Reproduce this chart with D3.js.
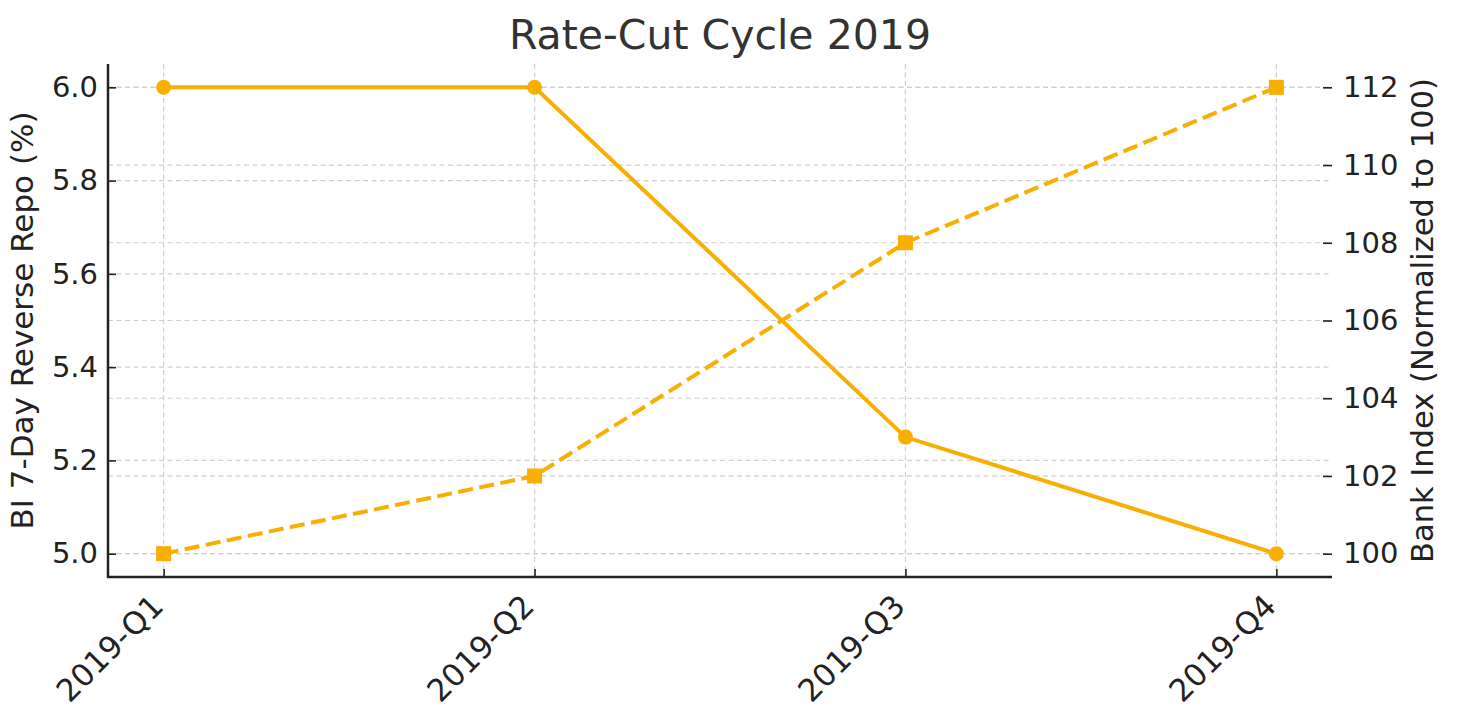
<!DOCTYPE html>
<html>
<head>
<meta charset="utf-8">
<script src="https://cdn.jsdelivr.net/npm/d3@7"></script>
<style>
  body { margin: 0; background: #fff; }
  text { font-family: "DejaVu Sans", sans-serif; }
</style>
</head>
<body>
<div id="chart"></div>
<script>
// data
var quarters = ["2019-Q1", "2019-Q2", "2019-Q3", "2019-Q4"];
var repoRate = [6.0, 6.0, 5.25, 5.0];
var bankIndex = [100, 102, 108, 112];
var rateTicks = [5.0, 5.2, 5.4, 5.6, 5.8, 6.0];
var indexTicks = [100, 102, 104, 106, 108, 110, 112];

var W = 1460, H = 721;
var plotL = 108, plotR = 1332, plotT = 64, plotB = 577;
var orange = "#f9ae02";

var svg = d3.select("#chart").append("svg")
    .attr("width", W)
    .attr("height", H);

var x = d3.scalePoint()
  .domain(quarters)
  .range([plotL, plotR])
  .padding(0.15);

var yL = d3.scaleLinear().domain([4.95, 6.05]).range([plotB, plotT]);
var yR = d3.scaleLinear().domain([99.4, 112.6]).range([plotB, plotT]);

// grid lines
var grid = svg.append("g")
  .attr("stroke", "#cfcfcf")
  .attr("stroke-width", 1.2)
  .attr("stroke-dasharray", "5,3.5")
  .attr("fill", "none");

grid.selectAll(".gx").data(quarters).enter().append("line")
  .attr("x1", function(d) { return x(d); })
  .attr("x2", function(d) { return x(d); })
  .attr("y1", plotT).attr("y2", plotB);

grid.selectAll(".gl").data(rateTicks).enter().append("line")
  .attr("x1", plotL).attr("x2", plotR)
  .attr("y1", function(d) { return yL(d); })
  .attr("y2", function(d) { return yL(d); });

grid.selectAll(".gr").data(indexTicks).enter().append("line")
  .attr("x1", plotL).attr("x2", plotR)
  .attr("y1", function(d) { return yR(d); })
  .attr("y2", function(d) { return yR(d); });

// left axis
var axL = svg.append("g")
  .attr("transform", "translate(" + plotL + ",0)")
  .call(d3.axisLeft(yL).tickValues(rateTicks).tickFormat(d3.format(".1f"))
    .tickSizeInner(-8).tickSizeOuter(0).tickPadding(10));
axL.select(".domain").remove();

// right axis
var axR = svg.append("g")
  .attr("transform", "translate(" + plotR + ",0)")
  .call(d3.axisRight(yR).tickValues(indexTicks)
    .tickSizeInner(-9).tickSizeOuter(0).tickPadding(11));
axR.select(".domain").remove();

// bottom axis
var axB = svg.append("g")
  .attr("transform", "translate(0," + plotB + ")")
  .call(d3.axisBottom(x).tickSizeInner(-8).tickSizeOuter(0).tickPadding(0));
axB.select(".domain").remove();

[axL, axR, axB].forEach(function(a) {
  a.selectAll(".tick line").attr("stroke", "#222").attr("stroke-width", 1.6);
  a.selectAll(".tick text")
    .attr("font-size", 29)
    .attr("font-family", "DejaVu Sans")
    .attr("fill", "#222");
});

axB.selectAll(".tick text")
  .attr("font-size", 31)
  .attr("text-anchor", "end")
  .attr("dy", null)
  .attr("y", 0)
  .attr("transform", "translate(1,31) rotate(-45)");

// spines
svg.append("line")
  .attr("x1", plotL).attr("x2", plotL)
  .attr("y1", plotT).attr("y2", plotB + 1)
  .attr("stroke", "#222").attr("stroke-width", 2.5);
svg.append("line")
  .attr("x1", plotL - 1).attr("x2", plotR)
  .attr("y1", plotB).attr("y2", plotB)
  .attr("stroke", "#222").attr("stroke-width", 2.5);

// repo rate line (solid, circles)
var rateData = quarters.map(function(q, i) { return {q: q, v: repoRate[i]}; });
svg.append("path")
  .datum(rateData)
  .attr("fill", "none")
  .attr("stroke", orange)
  .attr("stroke-width", 4)
  .attr("d", d3.line()
    .x(function(d) { return x(d.q); })
    .y(function(d) { return yL(d.v); }));
svg.selectAll(".dot").data(rateData).enter().append("circle")
  .attr("cx", function(d) { return x(d.q); })
  .attr("cy", function(d) { return yL(d.v); })
  .attr("r", 7.5)
  .attr("fill", orange);

// bank index line (dashed, squares)
var indexData = quarters.map(function(q, i) { return {q: q, v: bankIndex[i]}; });
svg.append("path")
  .datum(indexData)
  .attr("fill", "none")
  .attr("stroke", orange)
  .attr("stroke-width", 4)
  .style("stroke-dasharray", "15 6.5")
  .attr("d", d3.line()
    .x(function(d) { return x(d.q); })
    .y(function(d) { return yR(d.v); }));
svg.selectAll(".sq").data(indexData).enter().append("rect")
  .attr("x", function(d) { return x(d.q) - 7.5; })
  .attr("y", function(d) { return yR(d.v) - 7.5; })
  .attr("width", 15).attr("height", 15)
  .attr("fill", orange);

// title and axis labels
svg.append("text")
  .attr("x", (plotL + plotR) / 2)
  .attr("y", 49)
  .attr("text-anchor", "middle")
  .attr("font-size", 41)
  .attr("fill", "#333")
  .text("Rate-Cut Cycle 2019");

svg.append("text")
  .attr("transform", "translate(33," + (plotT + plotB) / 2 + ") rotate(-90)")
  .attr("text-anchor", "middle")
  .attr("font-size", 31)
  .attr("fill", "#222")
  .text("BI 7-Day Reverse Repo (%)");

svg.append("text")
  .attr("transform", "translate(1433," + (plotT + plotB) / 2 + ") rotate(-90)")
  .attr("text-anchor", "middle")
  .attr("font-size", 30.5)
  .attr("fill", "#222")
  .text("Bank Index (Normalized to 100)");
</script>
</body>
</html>
